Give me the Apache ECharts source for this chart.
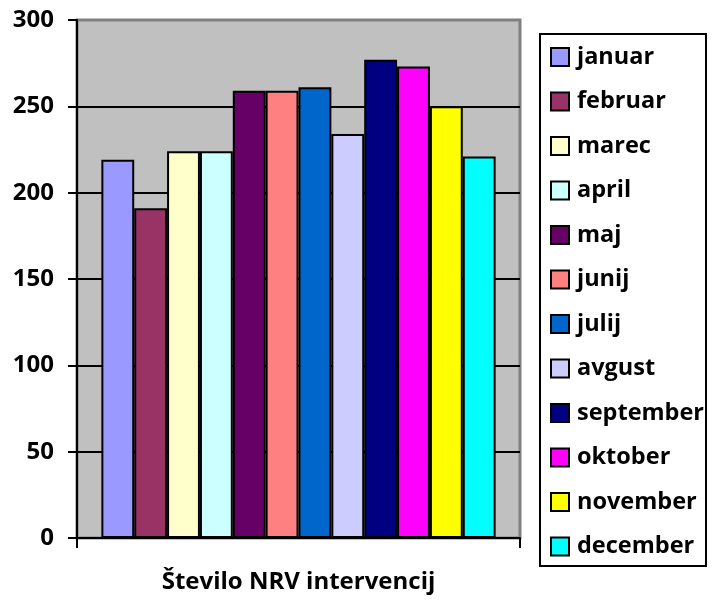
<!DOCTYPE html>
<html>
<head>
    <meta charset="utf-8">
    <title>Število NRV intervencij</title>
    <script src="https://cdn.jsdelivr.net/npm/echarts@6/dist/echarts.min.js"></script>
    <style type="text/css">
        * {
            margin: 0px;
            padding: 0px;
        }

        #main {
            width: 712px;
            height: 601px;
            background: #ffffff;
        }
    </style>
</head>
<body>
<div id="main"></div>
<script type="text/javascript">
    // podatki
    var category = ['Število NRV intervencij'];
    var months = ['januar', 'februar', 'marec', 'april', 'maj', 'junij',
        'julij', 'avgust', 'september', 'oktober', 'november', 'december'];
    var counts = [219, 191, 224, 224, 259, 259, 261, 234, 277, 273, 250, 221];
    var yTicks = [0, 50, 100, 150, 200, 250, 300];

    // barve kot v excelu
    var palette = ['#9999FF', '#993366', '#FFFFCC', '#CCFFFF', '#660066', '#FF8080',
        '#0066CC', '#CCCCFF', '#000080', '#FF00FF', '#FFFF00', '#00FFFF'];

    var font = '"Open Sans", "Noto Sans", sans-serif';

    var chart = echarts.init(document.getElementById('main'));

    var series = [];
    for (var i = 0; i < months.length; i++) {
        series.push({
            name: months[i],
            type: 'bar',
            data: [counts[i]],
            barGap: '0%',
            barCategoryGap: '11%',
            itemStyle: {
                color: palette[i],
                borderColor: '#000000',
                borderWidth: 2
            }
        });
    }

    var option = {
        animation: false,
        grid: {
            left: 77,
            right: 192,
            top: 20,
            bottom: 63,
            show: true,
            backgroundColor: '#C0C0C0',
            borderColor: '#808080',
            borderWidth: 3
        },
        legend: {
            orient: 'vertical',
            left: 550,
            top: 45,
            padding: 0,
            itemWidth: 18,
            itemHeight: 18,
            itemGap: 20.5,
            icon: 'rect',
            data: months,
            itemStyle: {
                borderColor: '#000000',
                borderWidth: 2
            },
            textStyle: {
                color: '#000000',
                fontFamily: font,
                fontWeight: 'bold',
                fontSize: 23.5,
                lineHeight: 24,
                padding: [0, 0, 0, 3]
            }
        },
        graphic: [{
            type: 'rect',
            shape: {x: 540, y: 34, width: 166, height: 532},
            style: {fill: 'none', stroke: '#000000', lineWidth: 2},
            z: 1
        }],
        xAxis: {
            type: 'category',
            data: category,
            axisLine: {lineStyle: {color: '#000000', width: 2}},
            axisTick: {show: true, length: 10, lineStyle: {color: '#000000', width: 2}},
            axisLabel: {
                color: '#000000',
                fontFamily: font,
                fontWeight: 'bold',
                fontSize: 24,
                margin: 32
            }
        },
        yAxis: {
            type: 'value',
            min: yTicks[0],
            max: yTicks[yTicks.length - 1],
            interval: yTicks[1] - yTicks[0],
            axisLine: {show: true, lineStyle: {color: '#000000', width: 2}},
            axisTick: {show: true, length: 9, lineStyle: {color: '#000000', width: 2}},
            axisLabel: {
                color: '#000000',
                fontFamily: font,
                fontWeight: 'bold',
                fontSize: 24,
                margin: 23
            },
            splitLine: {
                show: true,
                showMaxLine: false,
                lineStyle: {color: '#000000', width: 2}
            }
        },
        series: series
    };

    chart.setOption(option);
</script>
</body>
</html>
